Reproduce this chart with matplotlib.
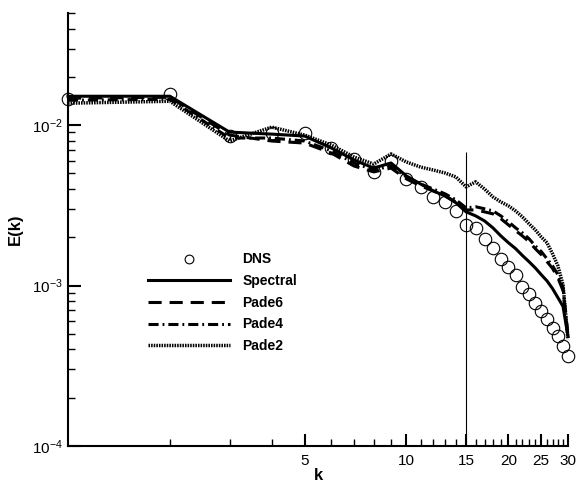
import matplotlib
matplotlib.use("Agg")
import matplotlib.pyplot as plt
import numpy as np
from matplotlib.ticker import FixedLocator, NullFormatter, FixedFormatter, LogLocator, LogFormatterSciNotation

plt.rcParams['font.family'] = ['Liberation Sans', 'DejaVu Sans']
plt.rcParams['mathtext.fontset'] = 'custom'
plt.rcParams['mathtext.rm'] = 'Liberation Sans'
plt.rcParams['mathtext.it'] = 'Liberation Sans:italic'
plt.rcParams['mathtext.bf'] = 'Liberation Sans:bold'

k = list(range(1, 31))

dns = [0.0145, 0.01557, 0.0085, 0.0089, 0.0089, 0.0072, 0.00615, 0.0051, 0.0060, 0.00462,
       0.00412, 0.00357, 0.00333, 0.00292, 0.00239, 0.00229, 0.00196, 0.00172, 0.00147, 0.00131,
       0.00117, 0.000986, 0.000891, 0.000784, 0.00069, 0.000615, 0.000541, 0.000482, 0.000418, 0.000362]

spectral = [0.01514, 0.01514, 0.00905, 0.00879, 0.00855, 0.00720, 0.00606, 0.00540, 0.00581, 0.00482,
            0.00430, 0.00389, 0.00362, 0.00328, 0.00288, 0.00272, 0.00253, 0.00229, 0.00204, 0.00185,
            0.00170, 0.00154, 0.00141, 0.00129, 0.00117, 0.00107, 0.000958, 0.000842, 0.000741, 0.000482]

pade6 = [0.01471, 0.01492, 0.00867, 0.00796, 0.00773, 0.00670, 0.00556, 0.00511, 0.00540, 0.00462,
         0.00418, 0.00389, 0.00362, 0.00332, 0.00296, 0.00296, 0.00288, 0.00280, 0.00261, 0.00239,
         0.00220, 0.00204, 0.00188, 0.00170, 0.00156, 0.00141, 0.00128, 0.00112, 0.000931, 0.000482]

pade4 = [0.01429, 0.01450, 0.00831, 0.00831, 0.00796, 0.00690, 0.00581, 0.00525, 0.00556, 0.00475,
         0.00430, 0.00400, 0.00373, 0.00342, 0.00305, 0.00310, 0.00301, 0.00292, 0.00272, 0.00250,
         0.00229, 0.00213, 0.00196, 0.00177, 0.00163, 0.00147, 0.00133, 0.00117, 0.000972, 0.000482]

pade2 = [0.01370, 0.01409, 0.00796, 0.00972, 0.00867, 0.00751, 0.00633, 0.00572, 0.00661, 0.00589,
         0.00548, 0.00525, 0.00503, 0.00475, 0.00412, 0.00443, 0.00400, 0.00357, 0.00332, 0.00314,
         0.00292, 0.00268, 0.00243, 0.00223, 0.00201, 0.00185, 0.00158, 0.00133, 0.00101, 0.000462]

x_major = [5, 10, 15, 20, 25, 30]
x_major_labels = ['5', '10', '15', '20', '25', '30']
x_minor = [2, 3, 4, 6, 7, 8, 9, 11, 12, 13, 14, 16, 17, 18, 19, 21, 22, 23, 24, 26, 27, 28, 29]
vline_k = 15
vline_top = 0.0068

fig = plt.figure(figsize=(5.77, 4.86), dpi=100)
ax = fig.add_axes([68/577, 1-446/486, 500/577, 433/486])

lw = 2.2
ax.plot(k, dns, linestyle='none', marker='o', markersize=9, markerfacecolor='none',
        markeredgecolor='black', markeredgewidth=0.8, label='DNS', clip_on=False, zorder=5)
ax.plot(k, spectral, color='black', lw=lw, linestyle='-', label='Spectral', clip_on=False)
ax.plot(k, pade6, color='black', lw=lw, linestyle=(0, (4.3, 2.6)), label='Pade6', clip_on=False)
ax.plot(k, pade4, color='black', lw=lw, linestyle=(0, (3.3, 1.3, 0.6, 1.3)), label='Pade4', clip_on=False)
ax.plot(k, pade2, color='black', lw=2.5, linestyle=(0, (0.45, 0.3)), label='Pade2', clip_on=False)

ax.vlines(vline_k, 1e-4, vline_top, color='black', lw=0.8)

ax.set_xscale('log')
ax.set_yscale('log')
ax.set_xlim(1, 30)
ax.set_ylim(1e-4, 5e-2)

ax.xaxis.set_major_locator(FixedLocator(x_major))
ax.xaxis.set_major_formatter(FixedFormatter(x_major_labels))
ax.xaxis.set_minor_locator(FixedLocator(x_minor))
ax.xaxis.set_minor_formatter(NullFormatter())

ax.yaxis.set_major_locator(LogLocator(base=10, numticks=10))
ax.yaxis.set_major_formatter(LogFormatterSciNotation())
ax.yaxis.set_minor_locator(LogLocator(base=10, subs=np.arange(2, 10), numticks=20))
ax.yaxis.set_minor_formatter(NullFormatter())

for s in ['top', 'right']:
    ax.spines[s].set_visible(False)
for s in ['left', 'bottom']:
    ax.spines[s].set_linewidth(1.5)

ax.tick_params(which='major', direction='in', length=9, width=1.5, labelsize=11, pad=4)
ax.tick_params(which='minor', direction='in', length=5, width=1.0)
ax.tick_params(axis='x', which='major', pad=6)

ax.set_xlabel('k', fontsize=12, fontweight='bold', labelpad=0)
ax.set_ylabel('E(k)', fontsize=12, fontweight='bold', labelpad=6)

leg = ax.legend(loc='upper left', bbox_to_anchor=(0.16, 0.447), frameon=False,
                prop={'weight': 'bold', 'size': 10}, handlelength=5.9, handletextpad=0.9,
                labelspacing=0.55, borderpad=0, borderaxespad=0, markerscale=0.7)

fig.savefig('out.png', dpi=100)
